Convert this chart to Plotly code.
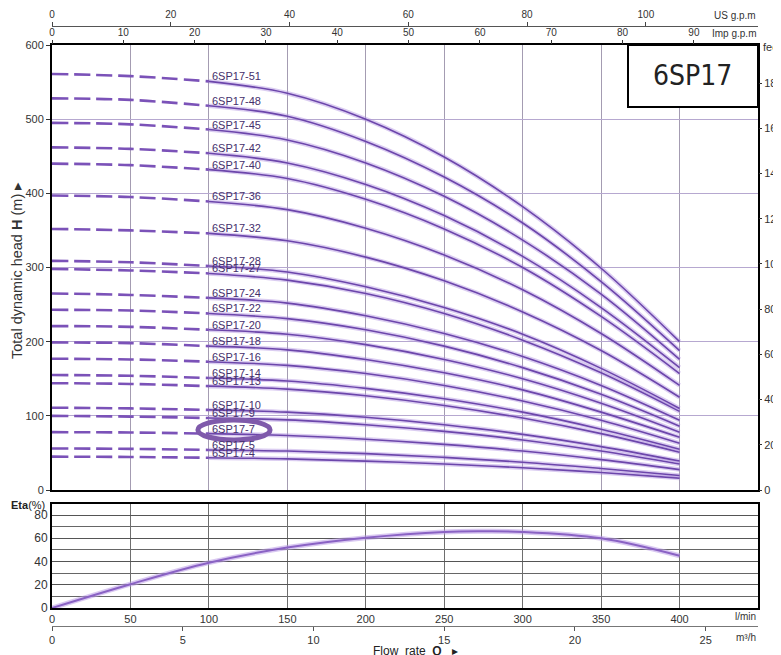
import plotly.graph_objects as go

# ---------------- data ----------------
flow_lpm = [0, 50, 100, 150, 200, 250, 300, 350, 400]   # l/min

h_4 = [45, 44.5, 43.5, 42, 39, 35, 30, 23.5, 16]
h_5 = [56, 55.5, 54, 52.5, 49, 44, 37.5, 29, 19.5]
h_7 = [78, 77.5, 76, 73.5, 68.5, 61.5, 52.5, 41, 27.5]
h_9 = [100, 99, 97, 94.5, 88, 79, 67.5, 52.5, 35]
h_10 = [111, 110, 108, 105, 98, 88, 75, 58.5, 39]
h_13 = [144, 143, 140, 136, 127, 114, 97, 76, 51]
h_14 = [155, 154, 151, 147, 137, 123, 105, 82, 55]
h_16 = [177, 176, 173, 168, 157, 141, 120, 94, 63]
h_18 = [199, 198, 194, 189, 176, 158, 135, 105, 71]
h_20 = [221, 220, 216, 210, 196, 176, 150, 117, 78]
h_22 = [243, 242, 238, 231, 216, 194, 165, 129, 86]
h_24 = [265, 263, 259, 252, 235, 211, 180, 141, 94]
h_27 = [298, 296, 292, 283, 265, 238, 202, 158, 106]
h_28 = [309, 307, 302, 294, 274, 246, 210, 164, 110]
h_32 = [352, 350, 346, 336, 314, 282, 240, 188, 125]
h_36 = [397, 395, 389, 378, 353, 317, 270, 211, 141]
h_40 = [440, 438, 432, 420, 392, 352, 300, 234, 157]
h_42 = [462, 460, 454, 441, 412, 370, 315, 246, 165]
h_45 = [495, 493, 486, 472, 441, 396, 337, 264, 176]
h_48 = [528, 526, 518, 504, 470, 422, 360, 281, 188]
h_51 = [561, 558, 551, 535, 500, 449, 382, 299, 200]

model_names = ["6SP17-4", "6SP17-5", "6SP17-7", "6SP17-9", "6SP17-10", "6SP17-13",
               "6SP17-14", "6SP17-16", "6SP17-18", "6SP17-20", "6SP17-22", "6SP17-24",
               "6SP17-27", "6SP17-28", "6SP17-32", "6SP17-36", "6SP17-40", "6SP17-42",
               "6SP17-45", "6SP17-48", "6SP17-51"]
model_heads = [h_4, h_5, h_7, h_9, h_10, h_13, h_14, h_16, h_18, h_20, h_22, h_24,
               h_27, h_28, h_32, h_36, h_40, h_42, h_45, h_48, h_51]

eta_flow = [0, 50, 100, 150, 200, 250, 275, 300, 350, 400]
eta_pct = [0, 20.5, 39, 52, 60.5, 65.5, 66, 65.5, 60, 45]

lpm_ticks = [0, 50, 100, 150, 200, 250, 300, 350, 400]
head_ticks = [0, 100, 200, 300, 400, 500, 600]
eta_ticks = [0, 20, 40, 60, 80]
eta_minor = [10, 30, 50, 70]
us_ticks = [0, 20, 40, 60, 80, 100]
imp_ticks = [0, 10, 20, 30, 40, 50, 60, 70, 80, 90]
m3h_ticks = [0, 5, 10, 15, 20, 25]
feet_ticks = [0, 200, 400, 600, 800, 1000, 1200, 1400, 1600, 1800]

# ---------------- figure ----------------
FONT = "Liberation Sans, Arial, sans-serif"
X_MAX = 450.0
DASH_END = 100

fig = go.Figure()

core = "#6c46ab"
halo = "rgba(175,145,225,0.45)"

for name, h in zip(model_names, model_heads):
    dq = [q for q in flow_lpm if q <= DASH_END]
    dh = [v for q, v in zip(flow_lpm, h) if q <= DASH_END]
    sq = [q for q in flow_lpm if q >= DASH_END]
    sh = [v for q, v in zip(flow_lpm, h) if q >= DASH_END]
    fig.add_trace(go.Scatter(x=dq, y=dh, mode="lines", xaxis="x", yaxis="y",
                             line=dict(color="#7b52b8", width=2.6, dash="16px,6px", shape="spline"),
                             hoverinfo="skip", showlegend=False))
    fig.add_trace(go.Scatter(x=sq, y=sh, mode="lines", xaxis="x", yaxis="y",
                             line=dict(color=halo, width=4.5, shape="spline"),
                             hoverinfo="skip", showlegend=False))
    fig.add_trace(go.Scatter(x=sq, y=sh, mode="lines", xaxis="x", yaxis="y",
                             line=dict(color=core, width=1.6, shape="spline"),
                             name=name, showlegend=False))
    fig.add_annotation(x=DASH_END, y=h[flow_lpm.index(DASH_END)], xref="x", yref="y",
                       text=name, showarrow=False, xanchor="left", yanchor="middle",
                       xshift=1, yshift=5,
                       font=dict(family=FONT, size=11, color="#45306c"))

# efficiency
fig.add_trace(go.Scatter(x=eta_flow, y=eta_pct, mode="lines", xaxis="x2", yaxis="y2",
                         line=dict(color="rgba(185,155,230,0.55)", width=5, shape="spline"),
                         hoverinfo="skip", showlegend=False))
fig.add_trace(go.Scatter(x=eta_flow, y=eta_pct, mode="lines", xaxis="x2", yaxis="y2",
                         line=dict(color="#8a62c4", width=2, shape="spline"),
                         name="Eta", showlegend=False))

# invisible traces to realise the secondary unit axes
fig.add_trace(go.Scatter(x=[0], y=[0], xaxis="x3", yaxis="y", mode="markers",
                         marker=dict(opacity=0), hoverinfo="skip", showlegend=False))
fig.add_trace(go.Scatter(x=[0], y=[0], xaxis="x4", yaxis="y", mode="markers",
                         marker=dict(opacity=0), hoverinfo="skip", showlegend=False))
fig.add_trace(go.Scatter(x=[0], y=[0], xaxis="x5", yaxis="y2", mode="markers",
                         marker=dict(opacity=0), hoverinfo="skip", showlegend=False))
fig.add_trace(go.Scatter(x=[0], y=[0], xaxis="x", yaxis="y3", mode="markers",
                         marker=dict(opacity=0), hoverinfo="skip", showlegend=False))

# The page body adds an 8 px offset; the figure is sized so it ends at the window edge.
OFF = 8
W, H = 781 - OFF, 655 - OFF
ML, MR = 52 - OFF, 23
mt, mb = 10, 10
ph = H - mt - mb
def py(pix):               # page pixel y -> paper fraction
    return (H - mb - (pix - OFF)) / ph
def px(pix):               # page pixel x -> paper fraction
    return (pix - OFF - ML) / (W - ML - MR)

tickfont = dict(family=FONT, size=11, color="#333333")
smallfont = dict(family=FONT, size=10, color="#333333")

fig.update_layout(
    width=W, height=H,
    margin=dict(l=ML, r=MR, t=mt, b=mb, autoexpand=False),
    paper_bgcolor="white", plot_bgcolor="white",
    showlegend=False,
    xaxis=dict(domain=[0, 1], anchor="y", range=[0, X_MAX], tickvals=lpm_ticks,
               showticklabels=False, ticks="", showgrid=True, gridcolor="#a49cb2", gridwidth=1,
               zeroline=False, showline=True, linecolor="black", linewidth=2, mirror=True,
               automargin=False),
    yaxis=dict(domain=[py(490), py(45)], anchor="x", range=[0, 600], tickvals=head_ticks,
               showgrid=True, gridcolor="#b6a8d0", gridwidth=1, zeroline=False,
               showline=True, linecolor="black", linewidth=2, mirror=True,
               ticks="outside", ticklen=4, tickcolor="#333", tickfont=tickfont,
               automargin=False),
    xaxis2=dict(domain=[0, 1], anchor="y2", range=[0, X_MAX], tickvals=lpm_ticks,
                ticks="", showgrid=True, gridcolor="#6e6e6e", gridwidth=1, zeroline=False,
                showline=True, linecolor="black", linewidth=2, mirror=True, tickfont=tickfont,
                automargin=False),
    yaxis2=dict(domain=[py(608), py(504)], anchor="x2", range=[0, 89.5], tickvals=eta_ticks,
                showgrid=True, gridcolor="#555555", gridwidth=1, zeroline=False,
                minor=dict(tickvals=eta_minor, showgrid=True, gridcolor="#666666", gridwidth=1),
                showline=True, linecolor="black", linewidth=2, mirror=True,
                ticks="", tickfont=dict(family=FONT, size=12, color="#333333"),
                automargin=False),
    xaxis3=dict(overlaying="x", anchor="y", side="top", range=[0, X_MAX / 4.54609],
                tickvals=imp_ticks, ticks="outside", ticklen=4, tickcolor="#333",
                showgrid=False, zeroline=False, showline=False, tickfont=smallfont,
                automargin=False),
    xaxis4=dict(overlaying="x", anchor="free", position=py(26), side="top",
                range=[0, X_MAX / 3.78541], tickvals=us_ticks, ticks="outside", ticklen=4,
                tickcolor="#444", showgrid=False, zeroline=False, showline=True,
                linecolor="#555", linewidth=1, tickfont=smallfont, automargin=False),
    xaxis5=dict(overlaying="x2", anchor="free", position=py(626), side="bottom",
                range=[0, X_MAX * 0.06], tickvals=m3h_ticks, ticks="outside", ticklen=4,
                tickcolor="#555", showgrid=False, zeroline=False, showline=True,
                linecolor="#777", linewidth=1, tickfont=tickfont, automargin=False),
    yaxis3=dict(overlaying="y", anchor="x", side="right", range=[0, 600 / 0.3048],
                tickvals=feet_ticks, ticks="outside", ticklen=3, tickcolor="#333",
                showgrid=False, zeroline=False, showline=False, tickfont=tickfont,
                automargin=False),
)

# title box
fig.add_shape(type="rect", xref="x domain", yref="y domain",
              x0=(628 - 52) / 706, x1=1, y0=(490 - 107) / 445, y1=1,
              fillcolor="white", line=dict(color="black", width=2), layer="above")
fig.add_annotation(xref="paper", yref="paper", x=px(692), y=py(76), text="6SP17",
                   showarrow=False, xanchor="center", yanchor="middle",
                   font=dict(family="Liberation Sans Narrow, DejaVu Sans Condensed, Arial Narrow, sans-serif",
                             size=28, color="#222222"))

# highlight ellipse around 6SP17-7
fig.add_shape(type="circle", xref="x", yref="y", x0=93, x1=139, y0=67.5, y1=94.5,
              line=dict(color="#7f5aab", width=5), layer="above")

# left border line
fig.add_shape(type="line", xref="paper", yref="paper", x0=px(4), x1=px(4),
              y0=py(490), y1=py(15), line=dict(color="#9a9a9a", width=1.5))

# axis texts
fig.add_annotation(xref="paper", yref="paper", x=1, y=py(15), text="US g.p.m",
                   showarrow=False, xanchor="right", yanchor="middle", font=smallfont)
fig.add_annotation(xref="paper", yref="paper", x=1, y=py(33), text="Imp g.p.m",
                   showarrow=False, xanchor="right", yanchor="middle", font=smallfont)
fig.add_annotation(xref="paper", yref="paper", x=px(761), y=py(47), text="feet",
                   showarrow=False, xanchor="left", yanchor="middle", font=tickfont)
fig.add_annotation(xref="paper", yref="paper", x=px(17), y=py(271),
                   text="Total dynamic head <b>H</b> (m) ▸", textangle=-90,
                   showarrow=False, xanchor="center", yanchor="middle",
                   font=dict(family=FONT, size=14.5, color="#333333"))
fig.add_annotation(xref="paper", yref="paper", x=px(9), y=py(505), text="<b>Eta</b>(%)",
                   showarrow=False, xanchor="left", yanchor="middle",
                   font=dict(family=FONT, size=11, color="#222222"))
fig.add_annotation(xref="paper", yref="paper", x=1, y=py(616), text="l/min",
                   showarrow=False, xanchor="right", yanchor="middle", font=smallfont)
fig.add_annotation(xref="paper", yref="paper", x=1, y=py(637), text="m³/h",
                   showarrow=False, xanchor="right", yanchor="middle", font=smallfont)
fig.add_annotation(xref="paper", yref="paper", x=px(415), y=py(651),
                   text="Flow  rate  <b>Q</b>   ▸",
                   showarrow=False, xanchor="center", yanchor="middle",
                   font=dict(family=FONT, size=12, color="#222222"))

fig.write_html("out.html", post_script="document.body.style.overflow='hidden';")
